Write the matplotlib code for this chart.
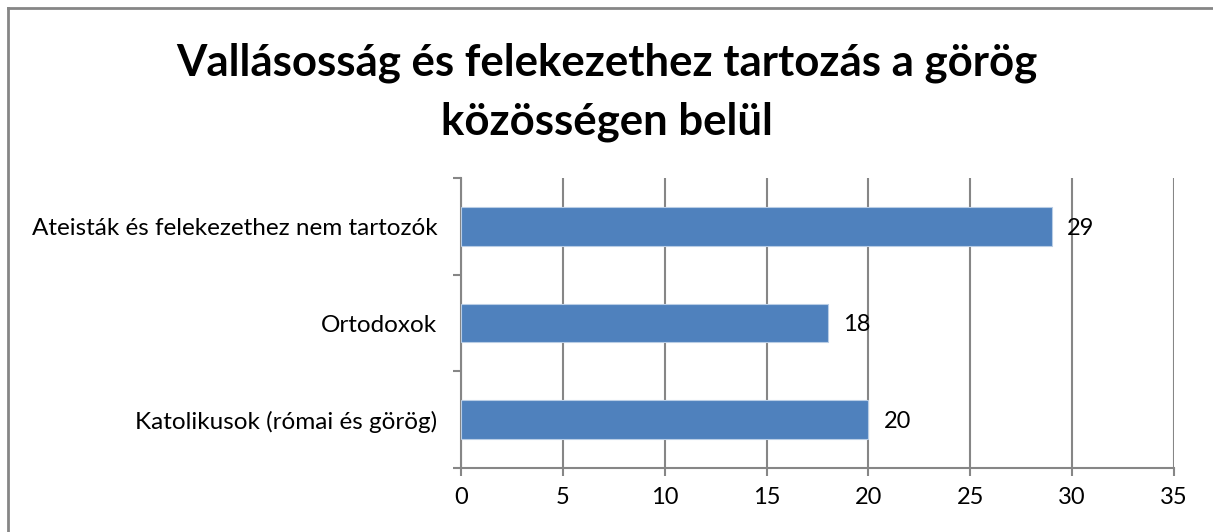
import matplotlib.pyplot as plt
from matplotlib.lines import Line2D

categories = ["Katolikusok (római és görög)", "Ortodoxok", "Ateisták és felekezethez nem tartozók"]
values = [20, 18, 29]
xticks = [0, 5, 10, 15, 20, 25, 30, 35]
title = "Vallásosság és felekezethez tartozás a görög\nközösségen belül"

plt.rcParams['font.family'] = ['Lato', 'DejaVu Sans']
grid_c = '#868686'
bar_c = '#4F81BD'

fig = plt.figure(figsize=(12.13, 5.32), dpi=100)
ax = fig.add_axes([461/1213, 64/532, 713/1213, 290/532])

ax.barh(range(len(values)), values, height=0.4, color=bar_c, edgecolor='#B9CDE5', linewidth=0.8, zorder=3)
for i, v in enumerate(values):
    ax.text(v + 0.75, i - 0.02, str(v), va='center', ha='left', fontsize=17, zorder=4)

ax.set_xlim(0, 35)
ax.set_ylim(-0.5, len(values) - 0.5)
ax.set_xticks(xticks)
ax.set_xticklabels([str(t) for t in xticks], fontsize=17)
ax.set_yticks(range(len(values)))
ax.set_yticklabels(categories, fontsize=17.5)
ax.set_yticks([-0.5, 0.5, 1.5, 2.5], minor=True)
ax.tick_params(axis='y', which='major', length=0, pad=17)
ax.tick_params(axis='y', which='minor', length=6, width=1.5, color=grid_c)
ax.tick_params(axis='x', length=6, width=1.5, color=grid_c, pad=8)
ax.grid(axis='x', color=grid_c, linewidth=1.5, zorder=0)
for s in ['top', 'right']:
    ax.spines[s].set_visible(False)
for s in ['left', 'bottom']:
    ax.spines[s].set_color(grid_c)
    ax.spines[s].set_linewidth(1.5)

fig.text(0.5, 0.826, title, ha='center', va='center', fontsize=31.5, fontweight='bold', linespacing=1.55)

# chart area border (left and top edges visible)
fig.add_artist(Line2D([8/1213, 8/1213], [0, 1 - 8/532], transform=fig.transFigure, color=grid_c, linewidth=2))
fig.add_artist(Line2D([8/1213, 1.0], [1 - 8/532, 1 - 8/532], transform=fig.transFigure, color=grid_c, linewidth=2))

fig.savefig('out.png', dpi=100)
